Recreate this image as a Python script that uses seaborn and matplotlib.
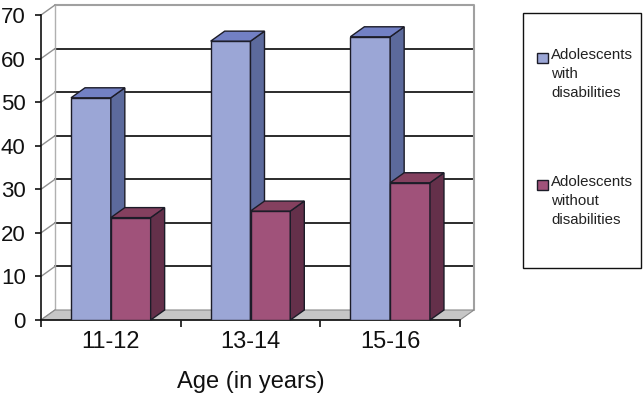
import numpy as np
import pandas as pd
import seaborn as sns
import matplotlib.pyplot as plt
from matplotlib.patches import Polygon, Rectangle
from matplotlib.lines import Line2D

# ---- data ----
ages = ["11-12", "13-14", "15-16"]
with_dis = [51, 64, 65]
without_dis = [23.5, 25, 31.5]
groups = ["Adolescents\nwith\ndisabilities", "Adolescents\nwithout\ndisabilities"]
yticks = [0, 10, 20, 30, 40, 50, 60, 70]

front_colors = ["#9BA6D6", "#A0527A"]
side_colors = ["#5C6A9C", "#64304A"]
top_colors = ["#7280C4", "#84405F"]
edge = "#1C1C28"

df = pd.DataFrame({
    "age": ages * 2,
    "value": with_dis + without_dis,
    "group": [groups[0]] * 3 + [groups[1]] * 3,
})

sns.set_theme(style="white")
plt.rcParams["font.family"] = ["Liberation Sans", "DejaVu Sans"]

W, H = 644, 393
fig = plt.figure(figsize=(W / 100, H / 100), dpi=100)
def fx(x): return x / W
def fy(y): return 1 - y / H

ax = fig.add_axes([fx(41), fy(320), (460 - 41) / W, (320 - 15) / H])
ax.patch.set_alpha(0)

sns.barplot(data=df, x="age", y="value", hue="group", palette=front_colors,
            width=0.57, saturation=1, edgecolor=edge, linewidth=1.0,
            ax=ax, legend=False)

ax.set_xlim(-0.5, 2.5)
ax.set_ylim(0, 70)

# depth offsets (data units)
dx = 14 / ((460 - 41) / 3)
dy = 10 / ((320 - 15) / 70)

x0, x1 = -0.5, 2.5
# back wall gridlines
for y in yticks[1:-1]:
    ax.add_line(Line2D([x0 + dx, x1 + dx], [y + dy, y + dy], color="#1a1a1a",
                       lw=1.3, zorder=0.5, clip_on=False))
# wall outline (gray)
ax.add_line(Line2D([x0 + dx, x1 + dx, x1 + dx], [70 + dy, 70 + dy, dy],
                   color="#A0A0A0", lw=1.5, zorder=0.5, clip_on=False))
ax.add_line(Line2D([x0 + dx, x0 + dx], [dy, 70 + dy], color="#B0B0B0",
                   lw=1.0, zorder=0.5, clip_on=False))
# left wall diagonals
for y in yticks:
    ax.add_line(Line2D([x0, x0 + dx], [y, y + dy], color="#909090",
                       lw=1.0, zorder=0.5, clip_on=False))
# floor
ax.add_patch(Polygon([(x0, 0), (x1, 0), (x1 + dx, dy), (x0 + dx, dy)],
                     closed=True, facecolor="#C6C6C6", edgecolor="#8A8A8A",
                     lw=0.8, zorder=0.6, clip_on=False))

# 3D faces for bars
bars = [b for b in ax.patches if isinstance(b, Rectangle) and b.get_height() > 0]
for i, b in enumerate(bars):
    k = 0 if i < len(ages) else 1
    z = 2 + k
    b.set_zorder(z)
    bx, bw, bh = b.get_x(), b.get_width(), b.get_height()
    side = Polygon([(bx + bw, 0), (bx + bw + dx, dy), (bx + bw + dx, bh + dy), (bx + bw, bh)],
                   closed=True, facecolor=side_colors[k], edgecolor=edge, lw=1.0,
                   zorder=z + 0.1, clip_on=False)
    top = Polygon([(bx, bh), (bx + bw, bh), (bx + bw + dx, bh + dy), (bx + dx, bh + dy)],
                  closed=True, facecolor=top_colors[k], edgecolor=edge, lw=1.0,
                  zorder=z + 0.1, clip_on=False)
    ax.add_patch(side)
    ax.add_patch(top)

# spines & ticks
for s in ["top", "right"]:
    ax.spines[s].set_visible(False)
for s in ["left", "bottom"]:
    ax.spines[s].set_color("#111111")
    ax.spines[s].set_linewidth(1.2)
    ax.spines[s].set_zorder(1)

ax.set_yticks(yticks)
ax.set_yticklabels([str(t) for t in yticks])
ax.tick_params(axis="y", direction="out", length=4, width=1.2, color="#111111",
               pad=7, labelsize=16, left=True, labelcolor="#111111")
ax.set_xticks(range(len(ages)))
ax.set_xticklabels(ages)
ax.set_xticks([-0.5, 0.5, 1.5, 2.5], minor=True)
ax.tick_params(axis="x", which="major", length=0, pad=8, labelsize=17,
               labelcolor="#111111")
ax.tick_params(axis="x", which="minor", direction="out", length=5, width=1.2,
               color="#111111", bottom=True)
ax.set_xlabel("Age (in years)", fontsize=17, labelpad=13, color="#111111")
ax.set_ylabel("")

# legend
fig.patches.append(Rectangle((fx(523), fy(268)), (641 - 523) / W, (268 - 13) / H,
                             transform=fig.transFigure, facecolor="white",
                             edgecolor="#111111", lw=1.0))
for k, (ytop, label) in enumerate([(48, groups[0]), (175, groups[1])]):
    fig.patches.append(Rectangle((fx(537), fy(63 if k == 0 else 190)), 11 / W, 10 / H,
                                 transform=fig.transFigure, facecolor=front_colors[k],
                                 edgecolor=edge, lw=1.0))
    fig.text(fx(551), fy(ytop), label, fontsize=10.8, va="top", ha="left",
             linespacing=1.45, color="#222222")

fig.savefig("out.png", dpi=100)
